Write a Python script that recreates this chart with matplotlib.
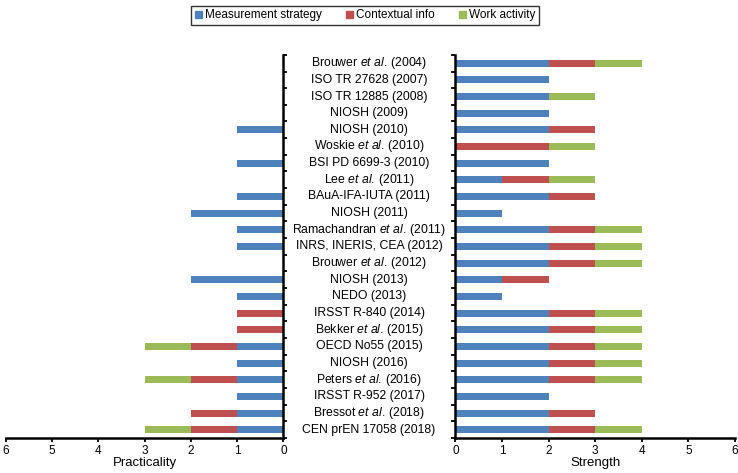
import matplotlib
matplotlib.use("Agg")
import matplotlib.pyplot as plt
import matplotlib.patches as mpatches
import matplotlib.transforms as mtransforms
import numpy as np

plt.rcParams['font.family'] = ['Liberation Sans', 'DejaVu Sans']
plt.rcParams['mathtext.fontset'] = 'custom'
plt.rcParams['mathtext.rm'] = 'Liberation Sans'
plt.rcParams['mathtext.it'] = 'Liberation Sans:italic'

# guidance documents, top to bottom
documents = [
    r"Brouwer $\it{et\ al.}\,$(2004)",
    "ISO TR 27628 (2007)",
    "ISO TR 12885 (2008)",
    "NIOSH (2009)",
    "NIOSH (2010)",
    r"Woskie $\it{et\ al.}\,$(2010)",
    "BSI PD 6699-3 (2010)",
    r"Lee $\it{et\ al.}\,$(2011)",
    "BAuA-IFA-IUTA (2011)",
    "NIOSH (2011)",
    r"Ramachandran $\it{et\ al.}\,$(2011)",
    "INRS, INERIS, CEA (2012)",
    r"Brouwer $\it{et\ al.}\,$(2012)",
    "NIOSH (2013)",
    "NEDO (2013)",
    "IRSST R-840 (2014)",
    r"Bekker $\it{et\ al.}\,$(2015)",
    "OECD No55 (2015)",
    "NIOSH (2016)",
    r"Peters $\it{et\ al.}\,$(2016)",
    "IRSST R-952 (2017)",
    r"Bressot $\it{et\ al.}\,$(2018)",
    "CEN prEN 17058 (2018)",
]

# practicality scores
prac_measure = [0, 0, 0, 0, 1, 0, 1, 0, 1, 2, 1, 1, 0, 2, 1, 0, 0, 1, 1, 1, 1, 1, 1]
prac_context = [0, 0, 0, 0, 0, 0, 0, 0, 0, 0, 0, 0, 0, 0, 0, 1, 1, 1, 0, 1, 0, 1, 1]
prac_work    = [0, 0, 0, 0, 0, 0, 0, 0, 0, 0, 0, 0, 0, 0, 0, 0, 0, 1, 0, 1, 0, 0, 1]

# strength scores
str_measure = [2, 2, 2, 2, 2, 0, 2, 1, 2, 1, 2, 2, 2, 1, 1, 2, 2, 2, 2, 2, 2, 2, 2]
str_context = [1, 0, 0, 0, 1, 2, 0, 1, 1, 0, 1, 1, 1, 1, 0, 1, 1, 1, 1, 1, 0, 1, 1]
str_work    = [1, 0, 1, 0, 0, 1, 0, 1, 0, 0, 1, 1, 1, 0, 0, 1, 1, 1, 1, 1, 0, 0, 1]

series_names = ["Measurement strategy", "Contextual info", "Work activity"]
colors = ['#4F81BD', '#C0504D', '#9BBB59']

fig = plt.figure(figsize=(7.38, 4.73), dpi=100)
ax_l = fig.add_axes([0.008, 0.074, 0.376, 0.810])
ax_r = fig.add_axes([0.617, 0.074, 0.379, 0.810])

y = np.arange(len(documents))
h = 0.42


def stacked(ax, parts):
    left = np.zeros(len(documents))
    for vals, c in zip(parts, colors):
        vals = np.array(vals, dtype=float)
        ax.barh(y, vals, left=left, height=h, color=c, edgecolor='none')
        left += vals


stacked(ax_l, [prac_measure, prac_context, prac_work])
stacked(ax_r, [str_measure, str_context, str_work])

for ax in (ax_l, ax_r):
    ax.set_ylim(len(documents) - 0.5, -0.5)
    ax.set_xlim(0, 6)
    ax.set_xticks(range(7))
    ax.set_yticks(np.arange(-0.5, len(documents), 1))
    ax.set_yticklabels([])
    ax.spines['top'].set_visible(False)
    for s in ('left', 'right', 'bottom'):
        ax.spines[s].set_linewidth(1.8)
    ax.tick_params(axis='both', length=3, width=1.3, labelsize=8.5, pad=2)

ax_l.invert_xaxis()
ax_l.spines['left'].set_visible(False)
ax_l.yaxis.tick_right()
ax_r.spines['right'].set_visible(False)

ax_l.set_xlabel("Practicality", fontsize=9.5, labelpad=0)
ax_r.set_xlabel("Strength", fontsize=9.5, labelpad=0)

trans = mtransforms.blended_transform_factory(fig.transFigure, ax_r.transData)
for i, name in enumerate(documents):
    fig.text(0.5, i, name, transform=trans, ha='center', va='center', fontsize=8.8)

handles = [mpatches.Patch(color=c, label=n) for c, n in zip(colors, series_names)]
fig.legend(handles=handles, loc='upper center', bbox_to_anchor=(0.495, 1.0), ncol=3,
           fontsize=8.5, frameon=True, fancybox=False, edgecolor='black',
           handlelength=0.6, handleheight=0.6, handletextpad=0.3, columnspacing=2.0,
           borderpad=0.3)

fig.savefig('out.png', dpi=100)
